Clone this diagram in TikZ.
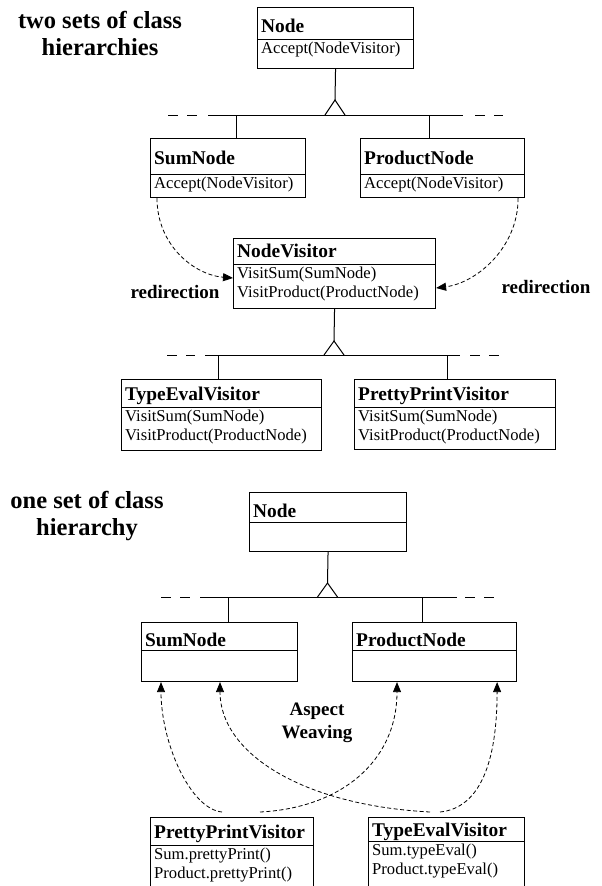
\documentclass[tikz,border=0pt]{standalone}
\usepackage{fontspec}
\setmainfont{Liberation Serif}
\usetikzlibrary{arrows.meta,calc}
\tikzset{
  classbox/.style={draw, line width=1.1pt, inner sep=0pt, rectangle},
  boxline/.style={line width=1pt},
  titlefont/.style={font=\bfseries\fontsize{19.4}{22}\selectfont, inner sep=0pt},
  bodyfont/.style={font=\fontsize{16.6}{19.5}\selectfont, inner sep=0pt},
  labelfont/.style={font=\bfseries\fontsize{19}{23}\selectfont, inner sep=0pt, align=center},
  headfont/.style={font=\bfseries\fontsize{24.5}{27}\selectfont, inner sep=0pt, align=center},
  genline/.style={line width=1pt},
  hdash/.style={line width=1pt, dash pattern=on 10pt off 9pt},
  redir/.style={line width=0.8pt, dash pattern=on 4pt off 2.5pt, -{Triangle[length=10pt,width=8pt]}},
}
\def\tboff{7}
% name, L, T, R, D, B, title, line1, line2
\newcommand\umlclass[9]{%
  \node[classbox, minimum width={(#4-#2)*1pt}, minimum height={(#6-#3)*1pt}, anchor=north west] (#1) at (#2,#3) {};
  \draw[boxline] (#2,#5) -- (#4,#5);
  \node[titlefont, anchor=base west] (#1-title) at (#2+4,#5-\tboff) {#8};
  \node[bodyfont, anchor=base west] (#1-l1) at (#2+4,#5+14) {#8};
  \node[bodyfont, anchor=base west] (#1-l2) at (#2+4,#5+33.5) {#9};
}
\renewcommand\umlclass[9]{%
  \node[classbox, minimum width={(#4-#2)*1pt}, minimum height={(#6-#3)*1pt}, anchor=north west] (#1) at (#2,#3) {};
  \draw[boxline] (#2,#5) -- (#4,#5);
  \node[titlefont, anchor=base west] (#1-title) at (#2+4,#5-\tboff) {#7};
  \node[bodyfont, anchor=base west] (#1-l1) at (#2+4,#5+14) {#8};
  \node[bodyfont, anchor=base west] (#1-l2) at (#2+4,#5+33.5) {#9};
}
\begin{document}
\begin{tikzpicture}[x=1pt, y=-1pt]
\useasboundingbox (0,0) rectangle (602,886);
\fill[white] (0,0) rectangle (602,886);

% ---------- upper part ----------
\node[headfont] (head1) at (100,33) {two sets of class\\hierarchies};

\def\tboff{7}
\umlclass{node1}{257}{7}{413}{39}{68}{Node}{Accept(NodeVisitor)}{}
\def\tboff{10}
\umlclass{sum1}{150}{138}{305}{174}{197}{SumNode}{Accept(NodeVisitor)}{}
\umlclass{prod1}{360}{138}{524}{174}{197}{ProductNode}{Accept(NodeVisitor)}{}
\def\tboff{7}
\umlclass{nv}{233}{238}{435}{264}{308}{NodeVisitor}{VisitSum(SumNode)}{VisitProduct(ProductNode)}
\umlclass{tev1}{121}{379}{321}{407}{450}{TypeEvalVisitor}{VisitSum(SumNode)}{VisitProduct(ProductNode)}
\umlclass{ppv1}{354}{379}{555}{407}{449}{PrettyPrintVisitor}{VisitSum(SumNode)}{VisitProduct(ProductNode)}

% generalization Node -> SumNode / ProductNode
\coordinate (apex1) at (335,100);
\coordinate (hl1a) at (208,115);
\coordinate (hl1b) at (463,115);
\coordinate (br1a) at (236,115);
\coordinate (br1b) at (429,115);
\draw[genline] (node1.south) -- (apex1);
\draw[genline] (325,115) -- (apex1) -- (345,115);
\draw[genline] (hl1a) -- (hl1b);
\draw[hdash] (168,115) -- (198,115);
\draw[hdash] (475,115) -- (503,115);
\draw[genline] (br1a) -- (br1a |- sum1.north);
\draw[genline] (br1b) -- (br1b |- prod1.north);

% generalization NodeVisitor -> visitors
\coordinate (apex2) at (334,341);
\coordinate (hl2a) at (205,355);
\coordinate (hl2b) at (460,355);
\coordinate (br2a) at (218,355);
\coordinate (br2b) at (447,355);
\draw[genline] (nv.south) -- (apex2);
\draw[genline] (324,355) -- (apex2) -- (344,355);
\draw[genline] (hl2a) -- (hl2b);
\draw[hdash] (167,355) -- (195,355);
\draw[hdash] (470,355) -- (500,355);
\draw[genline] (br2a) -- (br2a |- tev1.north);
\draw[genline] (br2b) -- (br2b |- ppv1.north);

% redirection arrows
\draw[redir] ([xshift=7pt]sum1.south west) .. controls +(0,48) and +(-38,-3) .. ([yshift=-40pt]nv.north west);
\draw[redir] ([xshift=-7pt]prod1.south east) .. controls +(0,50) and +(40,-5) .. ([yshift=-50pt]nv.north east);
\node[labelfont] (red1) at (175,292) {redirection};
\node[labelfont] (red2) at (546,287) {redirection};

% ---------- lower part ----------
\node[headfont] (head2) at (87,516) {one set of class\\hierarchy};

\def\tboff{5}
\umlclass{node2}{249}{492}{406}{522}{551}{Node}{}{}
\def\tboff{4}
\umlclass{sum2}{141}{622}{297}{650}{681}{SumNode}{}{}
\umlclass{prod2}{352}{622}{516}{650}{681}{ProductNode}{}{}
\def\tboff{7}
\umlclass{ppv2}{150}{817}{313}{845}{895}{PrettyPrintVisitor}{Sum.prettyPrint()}{Product.prettyPrint()}
\def\tboff{5}
\umlclass{tev2}{368}{817}{524}{841}{895}{TypeEvalVisitor}{Sum.typeEval()}{Product.typeEval()}

\coordinate (apex3) at (327.5,583);
\coordinate (hl3a) at (200,597);
\coordinate (hl3b) at (457,597);
\coordinate (br3a) at (228,597);
\coordinate (br3b) at (422,597);
\draw[genline] (node2.south) -- (apex3);
\draw[genline] (317.5,597) -- (apex3) -- (337.5,597);
\draw[genline] (hl3a) -- (hl3b);
\draw[hdash] (161,597) -- (190,597);
\draw[hdash] (465,597) -- (495,597);
\draw[genline] (br3a) -- (br3a |- sum2.north);
\draw[genline] (br3b) -- (br3b |- prod2.north);

% aspect weaving arrows
\draw[redir] ([xshift=72pt,yshift=5pt]ppv2.north west) .. controls +(-32,-3) and +(0,60) .. ([xshift=20pt]sum2.south west);
\draw[redir] ([xshift=110pt,yshift=5pt]ppv2.north west) .. controls +(80,-4) and +(0,80) .. ([xshift=45pt]prod2.south west);
\draw[redir] ([xshift=62pt,yshift=5pt]tev2.north west) .. controls +(-130,-7) and +(0,70) .. ([xshift=79pt]sum2.south west);
\draw[redir] ([xshift=72pt,yshift=5pt]tev2.north west) .. controls +(40,-4) and +(0,80) .. ([xshift=-20pt]prod2.south east);
\node[labelfont, font=\bfseries\fontsize{19}{23}\selectfont] (aw) at (317,723) {Aspect\\Weaving};
\end{tikzpicture}
\end{document}
